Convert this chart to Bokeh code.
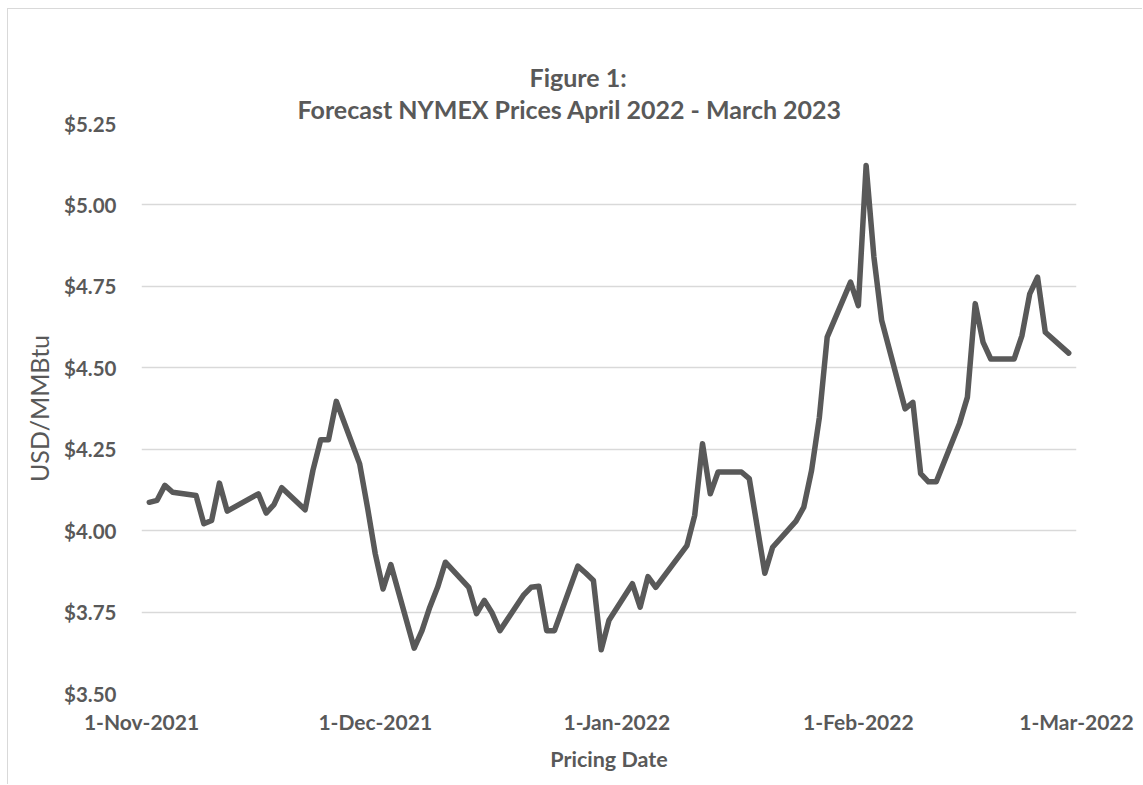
import pandas as pd
from bokeh.plotting import figure
from bokeh.models import (FixedTicker, NumeralTickFormatter, Range1d, Title)
from bokeh.embed import file_html
from bokeh.resources import INLINE

# ---- data ----
dates = [
    "2021-11-02", "2021-11-03", "2021-11-04", "2021-11-05",
    "2021-11-08", "2021-11-09", "2021-11-10", "2021-11-11", "2021-11-12",
    "2021-11-15", "2021-11-16", "2021-11-17", "2021-11-18", "2021-11-19",
    "2021-11-22", "2021-11-23", "2021-11-24", "2021-11-25", "2021-11-26",
    "2021-11-29", "2021-11-30", "2021-12-01", "2021-12-02", "2021-12-03",
    "2021-12-06", "2021-12-07", "2021-12-08", "2021-12-09", "2021-12-10",
    "2021-12-13", "2021-12-14", "2021-12-15", "2021-12-16", "2021-12-17",
    "2021-12-20", "2021-12-21", "2021-12-22", "2021-12-23", "2021-12-24",
    "2021-12-27", "2021-12-28", "2021-12-29", "2021-12-30", "2021-12-31",
    "2022-01-03", "2022-01-04", "2022-01-05", "2022-01-06", "2022-01-07",
    "2022-01-10", "2022-01-11", "2022-01-12", "2022-01-13", "2022-01-14",
    "2022-01-17", "2022-01-18", "2022-01-19", "2022-01-20", "2022-01-21",
    "2022-01-24", "2022-01-25", "2022-01-26", "2022-01-27", "2022-01-28",
    "2022-01-31", "2022-02-01", "2022-02-02", "2022-02-03", "2022-02-04",
    "2022-02-07", "2022-02-08", "2022-02-09", "2022-02-10", "2022-02-11",
    "2022-02-14", "2022-02-15", "2022-02-16", "2022-02-17", "2022-02-18",
    "2022-02-21", "2022-02-22", "2022-02-23", "2022-02-24", "2022-02-25",
    "2022-02-28",
]
prices = [
    4.087, 4.093, 4.139, 4.118,
    4.108, 4.021, 4.031, 4.146, 4.060,
    4.100, 4.113, 4.054, 4.080, 4.132,
    4.064, 4.185, 4.279, 4.279, 4.397,
    4.205, 4.072, 3.929, 3.821, 3.896,
    3.639, 3.693, 3.765, 3.826, 3.903,
    3.826, 3.745, 3.786, 3.747, 3.693,
    3.801, 3.826, 3.829, 3.693, 3.693,
    3.891, 3.870, 3.847, 3.634, 3.725,
    3.837, 3.765, 3.859, 3.826, 3.858,
    3.954, 4.047, 4.267, 4.113, 4.180,
    4.180, 4.160, 4.015, 3.869, 3.949,
    4.029, 4.072, 4.185, 4.348, 4.594,
    4.763, 4.691, 5.121, 4.840, 4.645,
    4.374, 4.394, 4.175, 4.150, 4.150,
    4.330, 4.410, 4.697, 4.579, 4.527,
    4.527, 4.599, 4.727, 4.778, 4.609,
    4.545,
]
x_tick_dates = ["2021-11-01", "2021-12-01", "2022-01-01", "2022-02-01", "2022-03-01"]
x_tick_labels = ["1-Nov-2021", "1-Dec-2021", "1-Jan-2022", "1-Feb-2022", "1-Mar-2022"]
y_ticks = [3.50, 3.75, 4.00, 4.25, 4.50, 4.75, 5.00, 5.25]
title_line1 = "Figure 1:"
title_line2 = "Forecast NYMEX Prices April 2022 - March 2023"
x_title = "Pricing Date"
y_title = "USD/MMBtu"

# ---- chart ----
FONT = "Lato"
GREY = "#595959"

x = pd.to_datetime(dates)
tick_ms = [pd.Timestamp(d).value // 10**6 for d in x_tick_dates]

p = figure(
    width=1135, height=776,
    x_axis_type="datetime",
    x_range=Range1d(pd.Timestamp(x_tick_dates[0]), pd.Timestamp(x_tick_dates[-1])),
    y_range=Range1d(y_ticks[0], y_ticks[-1]),
    output_backend="svg", toolbar_location=None,
    min_border_left=133, min_border_right=67,
    min_border_top=114, min_border_bottom=92,
)
p.styles = {"margin-top": "8px", "margin-left": "7px",
            "border-top": "1px solid #d9d9d9", "border-left": "1px solid #d9d9d9"}
p.outline_line_color = None
p.background_fill_color = "white"
p.border_fill_color = "white"

p.add_layout(Title(text=title_line2, align="left", text_font=FONT,
                   text_font_size="25px", text_font_style="bold",
                   text_color=GREY, standoff=0, offset=156), "above")
p.add_layout(Title(text=title_line1, align="left", text_font=FONT,
                   text_font_size="25px", text_font_style="bold",
                   text_color=GREY, standoff=0, offset=388), "above")

p.line(x, prices, line_width=5.5, line_color=GREY, line_join="round", line_cap="round")

# grid
p.xgrid.visible = False
p.ygrid.ticker = FixedTicker(ticks=y_ticks)
p.ygrid.grid_line_color = "#d9d9d9"
p.ygrid.grid_line_width = 1.5

# y axis
ya = p.yaxis[0]
ya.ticker = FixedTicker(ticks=y_ticks)
ya.formatter = NumeralTickFormatter(format="$0.00")
ya.axis_line_color = None
ya.major_tick_line_color = None
ya.minor_tick_line_color = None
ya.major_tick_out = 0
ya.major_tick_in = 0
ya.minor_tick_out = 0
ya.major_label_standoff = 25
ya.major_label_text_font = FONT
ya.major_label_text_font_size = "20.5px"
ya.major_label_text_font_style = "bold"
ya.major_label_text_color = GREY
ya.axis_label = y_title
ya.axis_label_text_font = FONT
ya.axis_label_text_font_size = "25px"
ya.axis_label_text_font_style = "normal"
ya.axis_label_text_color = GREY
ya.axis_label_standoff = 7

# x axis
xa = p.xaxis[0]
xa.ticker = FixedTicker(ticks=tick_ms)
xa.major_label_overrides = {t: lab for t, lab in zip(tick_ms, x_tick_labels)}
xa.axis_line_color = None
xa.major_tick_line_color = None
xa.minor_tick_line_color = None
xa.major_tick_out = 0
xa.major_tick_in = 0
xa.minor_tick_out = 0
xa.major_label_standoff = 15
xa.major_label_text_font = FONT
xa.major_label_text_font_size = "21px"
xa.major_label_text_font_style = "bold"
xa.major_label_text_color = GREY
xa.axis_label = x_title
xa.axis_label_text_font = FONT
xa.axis_label_text_font_size = "21.5px"
xa.axis_label_text_font_style = "bold"
xa.axis_label_text_color = GREY
xa.axis_label_standoff = 9

open("out.html", "w").write(file_html(p, INLINE))
